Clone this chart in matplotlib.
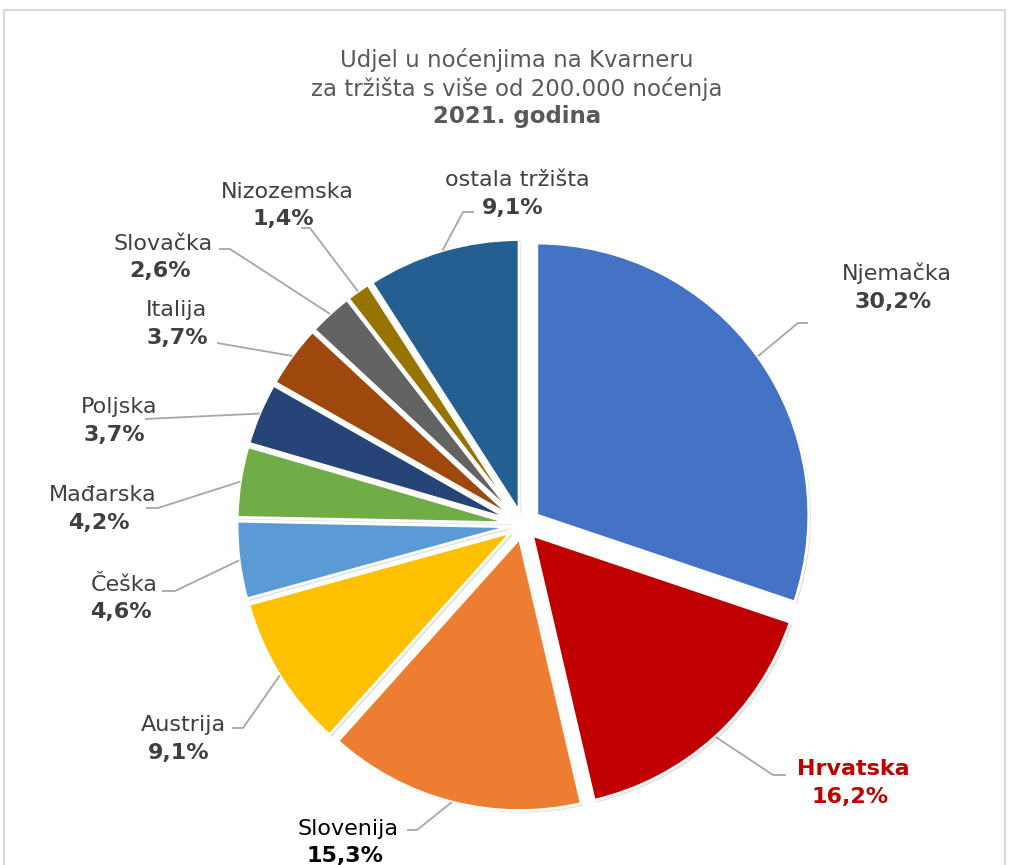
import numpy as np
import matplotlib
matplotlib.use('Agg')
import matplotlib.pyplot as plt
import matplotlib.patheffects as pe
from matplotlib.patches import Rectangle

# chart data
markets = ['Njemačka', 'Hrvatska', 'Slovenija', 'Austrija', 'Češka', 'Mađarska',
           'Poljska', 'Italija', 'Slovačka', 'Nizozemska', 'ostala tržišta']
shares = [30.2, 16.2, 15.3, 9.1, 4.6, 4.2, 3.7, 3.7, 2.6, 1.4, 9.1]
colors = ['#4472C4', '#C00000', '#ED7D31', '#FFC000', '#5B9BD5', '#70AD47',
          '#264478', '#9E480E', '#636363', '#997300', '#255E91']
title_lines = ['Udjel u noćenjima na Kvarneru',
               'za tržišta s više od 200.000 noćenja',
               '2021. godina']

# layout (pixel coords, y measured from top)
W, H = 1009, 865
cx, cy, rad = 523, 525, 272
explode = [17, 14, 14, 14, 14, 14, 14, 14, 14, 14, 14]
name_pos = [(897, 272), (853, 767), (348, 827), (183, 723), (124, 583), (103, 493),
            (119, 405), (176, 308), (163, 242), (287, 190), (517, 178)]
pct_pos = [(893, 300), (850, 795), (345, 854), (179, 751), (121, 610), (99, 521),
           (114, 433), (177, 336), (160, 269), (283, 217), (513, 206)]
elbows = [((798, 323), (808, 323)), ((773, 775), (786, 775)), ((417, 830), (407, 830)),
          ((243, 728), (232, 728)), ((175, 591), (162, 591)), ((158, 508), (146, 508)),
          ((145, 419), (145, 419)), ((217, 343), (217, 343)), ((230, 249), (219, 249)),
          ((310, 228), (301, 228)), ((463, 212), (474, 212))]

def py(y):
    return H - y

fig = plt.figure(figsize=(W / 100, H / 100), dpi=100, facecolor='white')
ax = fig.add_axes([0, 0, 1, 1])

wedges, _ = ax.pie(shares, colors=colors, radius=rad, center=(cx, py(cy)),
                   startangle=90, counterclock=False, explode=explode,
                   wedgeprops=dict(edgecolor='white', linewidth=2))
for w in wedges:
    w.set_path_effects([pe.SimplePatchShadow(offset=(1.5, -1.5), shadow_rgbFace='0.55', alpha=0.3),
                        pe.Normal()])

ax.set_xlim(0, W)
ax.set_ylim(0, H)
ax.set_aspect('equal')
ax.axis('off')

# outer chart border
ax.add_patch(Rectangle((4, py(880)), 1001, 870, fill=False, edgecolor='#D9D9D9',
                       linewidth=1.5, clip_on=False))

# title
title_y = [67, 96, 123]
for i, line in enumerate(title_lines):
    ax.text(517, py(title_y[i]), line, ha='center', va='baseline', fontsize=16.5,
            color='#595959', fontweight='bold' if i == 2 else 'normal')

# labels + leader lines
for i, w in enumerate(wedges):
    mid = np.deg2rad((w.theta1 + w.theta2) / 2)
    ex = w.center[0] + w.r * np.cos(mid)
    ey = w.center[1] + w.r * np.sin(mid)
    (bx, by), (lx, ly) = elbows[i]
    ax.plot([ex, bx, lx], [ey, py(by), py(ly)], color='#A6A6A6', linewidth=1.3,
            solid_capstyle='butt')

    col = '#404040'
    name_weight = 'normal'
    if markets[i] == 'Hrvatska':
        col = '#C00000'
        name_weight = 'bold'
    elif markets[i] == 'Slovenija':
        col = '#000000'
    pct = '{:.1f}%'.format(shares[i]).replace('.', ',')
    nx, ny = name_pos[i]
    tx, ty = pct_pos[i]
    ax.text(nx, py(ny + 8), markets[i], ha='center', va='baseline', fontsize=16,
            color=col, fontweight=name_weight)
    ax.text(tx, py(ty + 8), pct, ha='center', va='baseline', fontsize=16,
            color=col, fontweight='bold')

fig.savefig('out.png', dpi=100, facecolor='white')
